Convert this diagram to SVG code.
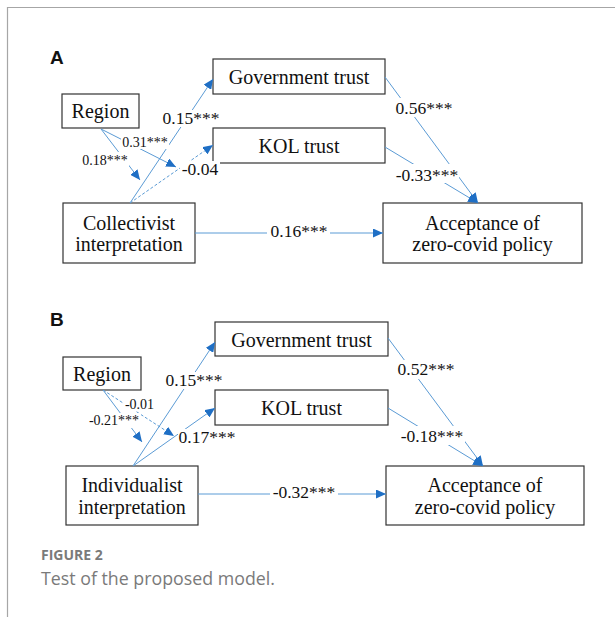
<svg xmlns="http://www.w3.org/2000/svg" width="615" height="617" viewBox="0 0 615 617">
<style>
.frame{stroke:#a6a6a6;stroke-width:1.2;fill:none}
.box{fill:#fff;stroke:#333;stroke-width:1.2}
.t{font-family:"Liberation Serif","Times New Roman",serif;font-size:20px;fill:#111;text-anchor:middle}
.lbl{font-family:"Liberation Serif","Times New Roman",serif;font-size:17.5px;fill:#111;text-anchor:middle}
.sm{font-size:14px}
.c{stroke:#5b9bd5;stroke-width:1;fill:none;marker-end:url(#ah)}
.d{stroke-dasharray:3 2}
.bg{fill:#fff}
.panel{font-family:"Liberation Sans",Arial,sans-serif;font-weight:bold;font-size:19px;fill:#111}
.cap1{font-family:"Open Sans","Liberation Sans",sans-serif;font-weight:bold;font-size:14px;fill:#7a7a7a}
.cap2{font-family:"Open Sans","Liberation Sans",sans-serif;font-size:17.8px;fill:#7a7a7a}
</style>
<defs>
<marker id="ah" viewBox="0 0 10 9" refX="10" refY="4.5" markerWidth="10" markerHeight="9" markerUnits="userSpaceOnUse" orient="auto">
<path d="M0,0 L10,4.5 L0,9 z" fill="#1f6fc5"/>
</marker>
</defs>
<rect width="615" height="617" fill="#fff"/>
<path class="frame" d="M7.5,617 V7.5 H615"/>
<text class="panel" x="50" y="64">A</text>
<text class="panel" x="50" y="326">B</text>

<g id="nodes-A">
<g id="a-region"><rect class="box" x="62" y="94" width="77" height="34"/><text class="t" x="100.5" y="118">Region</text></g>
<g id="a-gov"><rect class="box" x="213" y="59" width="172" height="35"/><text class="t" x="299" y="84">Government trust</text></g>
<g id="a-kol"><rect class="box" x="213" y="128" width="172" height="35"/><text class="t" x="299" y="153">KOL trust</text></g>
<g id="a-coll"><rect class="box" x="63" y="203" width="132" height="60"/><text class="t" x="129" y="230">Collectivist</text><text class="t" x="129" y="251">interpretation</text></g>
<g id="a-acc"><rect class="box" x="383" y="203" width="199" height="60"/><text class="t" x="482.5" y="230">Acceptance of</text><text class="t" x="482.5" y="251">zero-covid policy</text></g>
</g>

<g id="nodes-B">
<g id="b-region"><rect class="box" x="63" y="357" width="78" height="33"/><text class="t" x="102" y="381">Region</text></g>
<g id="b-gov"><rect class="box" x="215" y="322" width="173" height="34"/><text class="t" x="301.5" y="347">Government trust</text></g>
<g id="b-kol"><rect class="box" x="215" y="390" width="173" height="35"/><text class="t" x="301.5" y="415">KOL trust</text></g>
<g id="b-ind"><rect class="box" x="66" y="466" width="132" height="59"/><text class="t" x="132" y="492">Individualist</text><text class="t" x="132" y="514">interpretation</text></g>
<g id="b-acc"><rect class="box" x="386" y="466" width="198" height="59"/><text class="t" x="485" y="492">Acceptance of</text><text class="t" x="485" y="514">zero-covid policy</text></g>
</g>

<g id="connectors">
<line class="c" x1="130" y1="203" x2="213" y2="79"/>
<line class="c d" x1="130" y1="203" x2="213" y2="145"/>
<line class="c" x1="101" y1="129" x2="176" y2="167"/>
<line class="c" x1="101" y1="129" x2="140" y2="180"/>
<line class="c" x1="195" y1="233" x2="383" y2="233"/>
<line class="c" x1="385" y1="77" x2="478" y2="203"/>
<line class="c" x1="385" y1="147" x2="478" y2="203"/>

<line class="c" x1="133" y1="466" x2="215" y2="342"/>
<line class="c" x1="133" y1="466" x2="215" y2="408"/>
<line class="c" x1="103" y1="390" x2="142" y2="442"/>
<line class="c d" x1="103" y1="390" x2="174" y2="436"/>
<line class="c" x1="198" y1="494" x2="386" y2="494"/>
<line class="c" x1="388" y1="338" x2="483" y2="466"/>
<line class="c" x1="388" y1="408" x2="483" y2="466"/>
</g>

<g id="labels">
<rect class="bg" x="163" y="110" width="56" height="17"/><text class="lbl" x="191" y="124">0.15***</text>
<rect class="bg" x="180" y="161" width="40" height="18"/><text class="lbl" x="200" y="175">-0.04</text>
<rect class="bg" x="121" y="134" width="48" height="15"/><text class="lbl sm" x="145" y="147">0.31***</text>
<rect class="bg" x="81" y="152" width="48" height="15"/><text class="lbl sm" x="105" y="165">0.18***</text>
<rect class="bg" x="267" y="223" width="63" height="18"/><text class="lbl" x="299" y="237">0.16***</text>
<rect class="bg" x="394" y="98" width="60" height="19"/><text class="lbl" x="424" y="114">0.56***</text>
<rect class="bg" x="395" y="164" width="64" height="19"/><text class="lbl" x="427" y="181">-0.33***</text>

<rect class="bg" x="165" y="372" width="58" height="17"/><text class="lbl" x="194" y="386">0.15***</text>
<rect class="bg" x="178" y="429" width="58" height="17"/><text class="lbl" x="207" y="443">0.17***</text>
<rect class="bg" x="124" y="396" width="31" height="15"/><text class="lbl sm" x="139.5" y="409">-0.01</text>
<rect class="bg" x="87" y="413" width="54" height="15"/><text class="lbl sm" x="114" y="425">-0.21***</text>
<rect class="bg" x="270" y="484" width="68" height="18"/><text class="lbl" x="304" y="498">-0.32***</text>
<rect class="bg" x="396" y="360" width="60" height="19"/><text class="lbl" x="426" y="375">0.52***</text>
<rect class="bg" x="399" y="426" width="66" height="19"/><text class="lbl" x="432" y="442">-0.18***</text>
</g>

<text class="cap1" x="41" y="560">FIGURE 2</text>
<text class="cap2" x="41" y="584.5">Test of the proposed model.</text>
</svg>
